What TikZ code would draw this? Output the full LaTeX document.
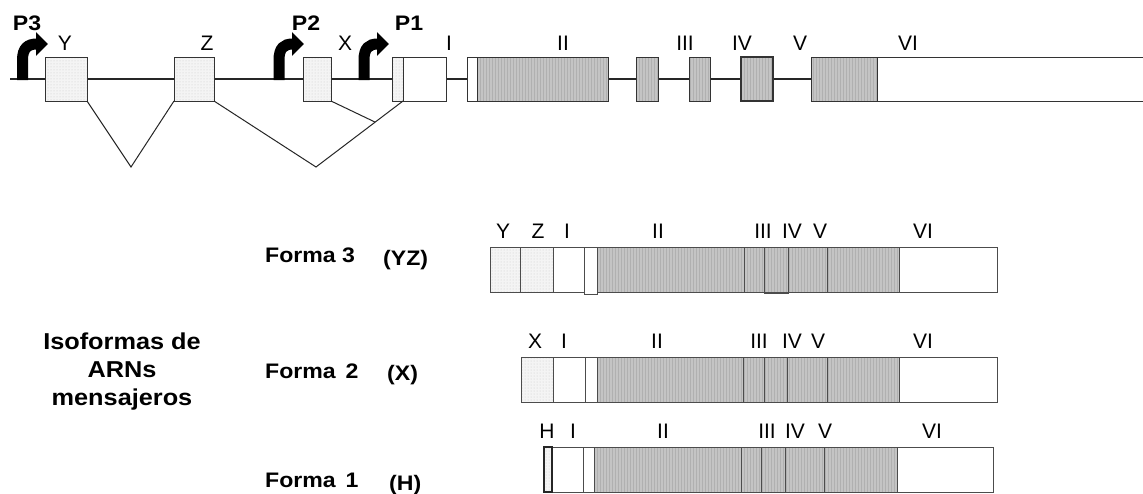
\documentclass[tikz,border=0pt]{standalone}
\usepackage{fontspec}
\setmainfont{Liberation Sans}
\newfontfamily\blbl[FakeStretch=1.1]{Liberation Sans}
\usetikzlibrary{arrows.meta,patterns,calc}
\tikzset{
  ln/.style={draw=black!85, line width=1.1pt},
  exon/.style={draw=black!80, line width=1pt, minimum height=44pt, inner sep=0pt, outer sep=0pt},
  dotex/.style={preaction={fill=gray!9}, pattern=dots, pattern color=gray!40},
  greyex/.style={preaction={fill=gray!46}, pattern=vertical lines, pattern color=gray!62},
  whiteex/.style={fill=white},
  seg/.style={draw=black!70, line width=0.9pt},
  splice/.style={draw=black!85, line width=1pt},
  promoter/.style={line width=11pt, line cap=butt, -{Triangle[length=12pt,width=23pt]}},
  lab/.style={font=\fontsize{21}{24}\selectfont, anchor=base, inner sep=0pt},
  blab/.style={font=\blbl\bfseries\fontsize{21}{24}\selectfont, anchor=base, inner sep=0pt},
  blabw/.style={blab, anchor=base west},
}
\begin{document}
\begin{tikzpicture}[x=1pt,y=-1pt]
\useasboundingbox (0,0) rectangle (1143,493);
\clip (0,0) rectangle (1143,493);
\fill[white] (0,0) rectangle (1143,493);

% ---------- gene ----------
\draw[ln] (10,79) -- (1143,79);
\node[exon,dotex,minimum width=42pt] (Y) at (66,79) {};
\node[exon,dotex,minimum width=40pt] (Z) at (194,79) {};
\node[exon,dotex,minimum width=28pt] (X) at (317,79) {};
\node[exon,dotex,minimum width=11pt] (Is) at (397.5,79) {};
\node[exon,whiteex,minimum width=43pt] (I) at (424.5,79) {};
\node[exon,whiteex,minimum width=10pt] (IIa) at (472,79) {};
\node[exon,greyex,minimum width=131pt] (II) at (542.5,79) {};
\node[exon,greyex,minimum width=22pt] (III) at (647,79) {};
\node[exon,greyex,minimum width=21pt] (IV) at (699.5,79) {};
\node[exon,greyex,minimum width=32pt,line width=1.6pt] (V) at (757,79) {};
\node[exon,greyex,minimum width=66pt] (VIa) at (844,79) {};
\node[exon,whiteex,minimum width=283pt] (VI) at (1018.5,79) {};

% splicing
\coordinate (v1) at (131,167);
\coordinate (v2) at (316,167);
\draw[splice] (Y.south east) -- (v1) -- (Z.south west);
\draw[splice] (Z.south east) -- (v2) -- (Is.south east);
\coordinate (j) at ($(v2)!0.68!(Is.south east)$);
\draw[splice] (X.south east) -- (j);

% promoters
\draw[promoter] (22.5,80) -- (22.5,60) .. controls (22.5,48) and (28,44) .. (48,44);
\draw[promoter] (279,80) -- (279,60) .. controls (279,48) and (284,44) .. (304,44);
\draw[promoter] (364,80) -- (364,60) .. controls (364,48) and (369,44) .. (389,44);
\node[blab] (p3) at (27,30) {P3};
\node[blab] (p2) at (306,30) {P2};
\node[blab] (p1) at (409,30) {P1};

% top labels
\node[lab] (tY) at (65,50) {Y};
\node[lab] (tZ) at (207,50) {Z};
\node[lab] (tX) at (345,50) {X};
\node[lab] (tI) at (449,50) {I};
\node[lab] (tII) at (563,50) {II};
\node[lab] (tIII) at (685,50) {III};
\node[lab] (tIV) at (742,50) {IV};
\node[lab] (tV) at (800,50) {V};
\node[lab] (tVI) at (908,50) {VI};

% ---------- Forma 3 ----------
\draw[seg,dotex] (490,247) rectangle (520,292);
\draw[seg,dotex] (520,247) rectangle (553,292);
\draw[seg,whiteex] (553,247) rectangle (584,292);
\draw[seg,whiteex] (584,247) rectangle (597,294);
\draw[seg,greyex] (597,247) rectangle (899,292);
\draw[seg] (744,247) -- (744,292);
\draw[seg] (764,247) -- (764,293) -- (788,293) -- (788,247);
\draw[seg] (827,247) -- (827,292);
\draw[seg,whiteex] (899,247) rectangle (997,292);
\node[lab] at (503,238) {Y};
\node[lab] at (538,238) {Z};
\node[lab] at (567,238) {I};
\node[lab] at (658,238) {II};
\node[lab] at (763,238) {III};
\node[lab] at (792,238) {IV};
\node[lab] at (820,238) {V};
\node[lab] at (923,238) {VI};

% ---------- Forma 2 ----------
\draw[seg,dotex] (521,357) rectangle (553,402);
\draw[seg,whiteex] (553,357) rectangle (585,402);
\draw[seg,whiteex] (585,357) rectangle (597,402);
\draw[seg,greyex] (597,357) rectangle (899,402);
\draw[seg] (743,357) -- (743,402);
\draw[seg] (764,357) -- (764,402);
\draw[seg] (787,357) -- (787,402);
\draw[seg] (827,357) -- (827,402);
\draw[seg,whiteex] (899,357) rectangle (997,402);
\node[lab] at (535,348) {X};
\node[lab] at (564,348) {I};
\node[lab] at (657,348) {II};
\node[lab] at (759,348) {III};
\node[lab] at (792,348) {IV};
\node[lab] at (818,348) {V};
\node[lab] at (923,348) {VI};

% ---------- Forma 1 ----------
\draw[seg,whiteex] (552,447) rectangle (583,492);
\draw[seg,whiteex] (583,447) rectangle (594,492);
\draw[seg,greyex] (594,447) rectangle (897,492);
\draw[seg] (741,447) -- (741,492);
\draw[seg] (761,447) -- (761,492);
\draw[seg] (785,447) -- (785,492);
\draw[seg] (824,447) -- (824,492);
\draw[seg,whiteex] (897,447) rectangle (993,492);
\draw[draw=black!85,line width=1.6pt,dotex] (544,447) rectangle (552,492);
\node[lab] at (547,438) {H};
\node[lab] at (573,438) {I};
\node[lab] at (663,438) {II};
\node[lab] at (767,438) {III};
\node[lab] at (795,438) {IV};
\node[lab] at (825,438) {V};
\node[lab] at (932,438) {VI};

% ---------- left labels ----------
\node[blabw] (f3) at (265,262) {Forma 3};
\node[blabw] (f3t) at (383,265) {(YZ)};
\node[blabw] (f2) at (265,378) {Forma\, 2};
\node[blabw] (f2t) at (387,380) {(X)};
\node[blabw] (f1) at (265,487) {Forma\, 1};
\node[blabw] (f1t) at (389,490) {(H)};
\node[blab, font=\blbl\bfseries\fontsize{23}{28}\selectfont, align=center, anchor=north] (iso) at (122,333) {Isoformas de\\ARNs\\mensajeros};
\end{tikzpicture}
\end{document}
